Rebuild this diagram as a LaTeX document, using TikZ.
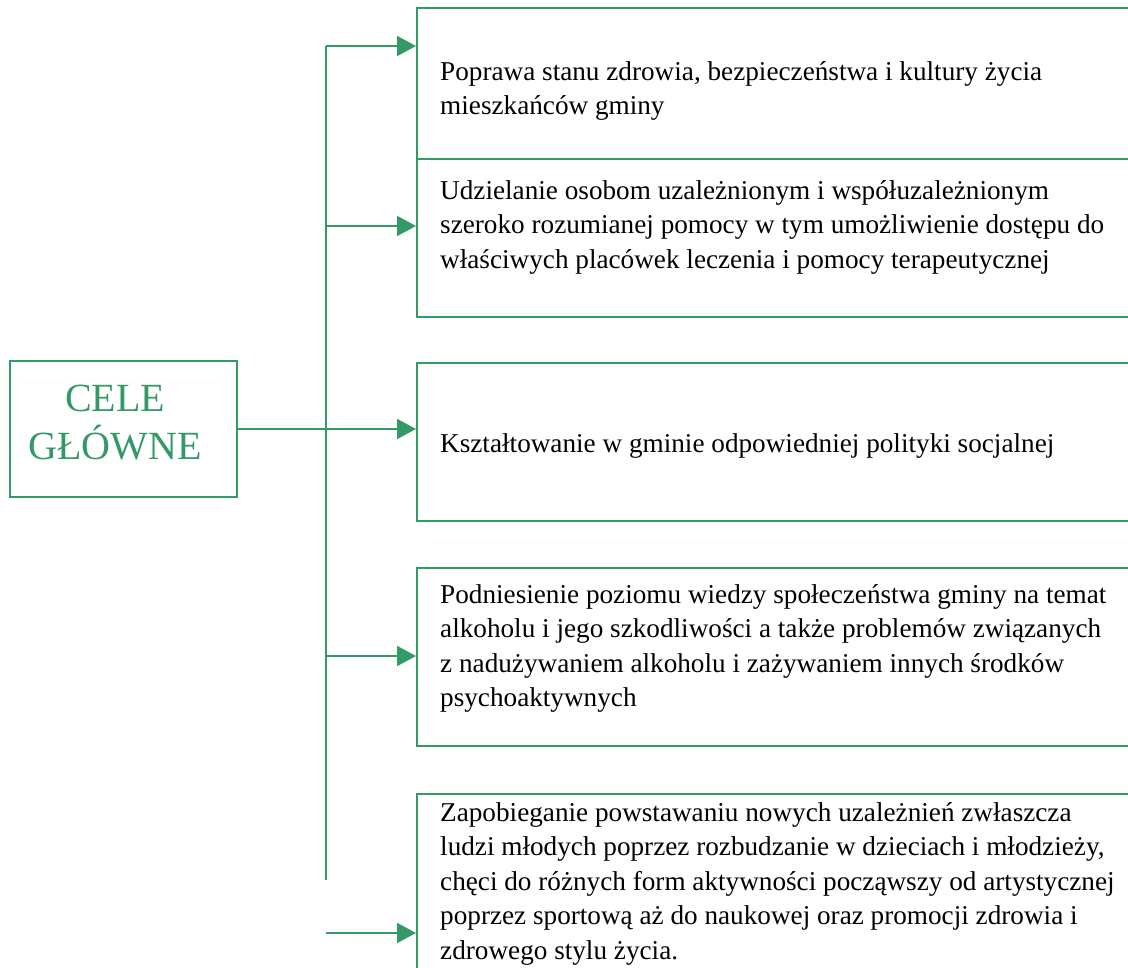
\documentclass[tikz,border=0pt]{standalone}
\usepackage{fontspec}
\setmainfont{Liberation Serif}
\usetikzlibrary{arrows.meta}
\definecolor{celegreen}{RGB}{51,153,102}
\tikzset{
  aimbox/.style={draw=celegreen, line width=1.8pt, minimum width=800pt, anchor=north west, inner sep=0pt},
  aimtext/.style={anchor=north west, inner sep=0pt, align=left, font=\fontsize{27.2}{34.5}\selectfont},
  conn/.style={draw=celegreen, line width=1.8pt},
  arr/.style={conn, -{Triangle[length=19pt,width=20pt]}},
}
\newcommand{\topstrut}{\rule{0pt}{26pt}}
\begin{document}
\begin{tikzpicture}[x=1pt, y=-1pt]
  \useasboundingbox (0,0) rectangle (1128,968);
  \clip (0,0) rectangle (1128,968);

  % main goal
  \node [draw=celegreen, line width=1.8pt, minimum width=227pt, minimum height=136pt, inner sep=0pt] (goal) at (123.5,429) {};
  \node [anchor=north, inner sep=0pt, align=center, text=celegreen, font=\fontsize{40}{48}\selectfont] (goallbl) at (115,381) {\rule{0pt}{30pt}CELE\\GŁÓWNE};

  % goal boxes
  \node [aimbox, minimum height=151pt] (b1) at (416,7) {};
  \node [aimbox, minimum height=158pt] (b2) at (416,158) {};
  \node [aimbox, minimum height=158pt] (b3) at (416,362) {};
  \node [aimbox, minimum height=178pt] (b4) at (416,567) {};
  \node [aimbox, minimum height=220pt] (b5) at (416,793) {};

  \node [aimtext] (t1) at (440,54) {\topstrut Poprawa stanu zdrowia, bezpieczeństwa i kultury życia\\mieszkańców gminy};
  \node [aimtext] (t2) at (440,173) {\topstrut Udzielanie osobom uzależnionym i współuzależnionym\\szeroko rozumianej pomocy w tym umożliwienie dostępu do\\właściwych placówek leczenia i pomocy terapeutycznej};
  \node [aimtext] (t3) at (440,426) {\topstrut Kształtowanie w gminie odpowiedniej polityki socjalnej};
  \node [aimtext] (t4) at (440,577) {\topstrut Podniesienie poziomu wiedzy społeczeństwa gminy na temat\\alkoholu i jego szkodliwości a także problemów związanych\\z nadużywaniem alkoholu i zażywaniem innych środków\\psychoaktywnych};
  \node [aimtext] (t5) at (440,795) {\topstrut Zapobieganie powstawaniu nowych uzależnień zwłaszcza\\ludzi młodych poprzez rozbudzanie w dzieciach i młodzieży,\\chęci do różnych form aktywności począwszy od artystycznej\\poprzez sportową aż do naukowej oraz promocji zdrowia i\\zdrowego stylu życia.};

  % connectors
  \coordinate (ttop) at (326,46);
  \coordinate (tbot) at (326,880);
  \coordinate (j2) at (326,226);
  \coordinate (j4) at (326,656);
  \coordinate (j5) at (326,933);
  \draw [conn] (ttop) -- (tbot);
  \draw [arr] (ttop) -- (ttop -| b1.west);
  \draw [arr] (j2) -- (j2 -| b2.west);
  \draw [arr] (goal.east) -- (goal.east -| b3.west);
  \draw [arr] (j4) -- (j4 -| b4.west);
  \draw [arr] (j5) -- (j5 -| b5.west);
\end{tikzpicture}
\end{document}
